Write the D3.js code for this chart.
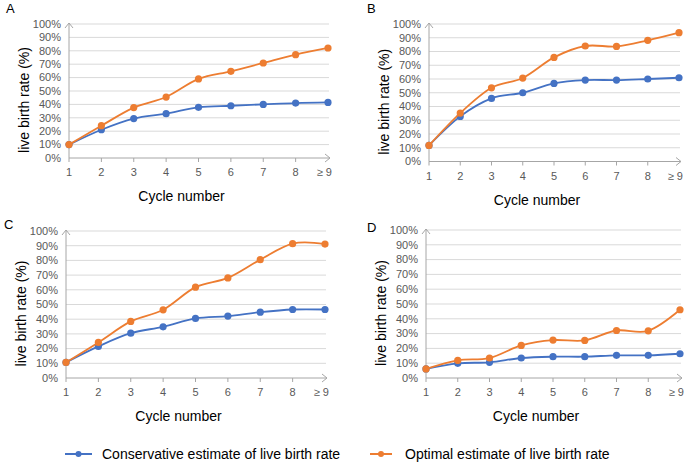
<!DOCTYPE html>
<html>
<head>
<meta charset="utf-8">
<script src="https://cdn.jsdelivr.net/npm/d3@7"></script>
<style>
  body { margin: 0; background: #fff; }
  svg { font-family: "Liberation Sans", Arial, sans-serif; }
</style>
</head>
<body>
<div id="chart"></div>
<script>
// cycle categories and y ticks
var categories = ["1", "2", "3", "4", "5", "6", "7", "8", "≥ 9"];
var yTicks = [0, 10, 20, 30, 40, 50, 60, 70, 80, 90, 100];

// live birth rate (%)
var consA = [10, 21.1, 29.4, 33.1, 37.8, 39, 40, 41, 41.5];
var optA  = [10, 24.1, 37.6, 45.5, 59, 64.7, 70.9, 77.1, 82.1];
var consB = [11.7, 32.8, 45.9, 50, 56.8, 59.2, 59.2, 60, 60.9];
var optB  = [11.7, 35.2, 53.6, 60.7, 75.7, 84, 83.7, 88.1, 93.7];
var consC = [10.6, 21.5, 30.5, 34.8, 40.5, 42.1, 44.8, 46.6, 46.6];
var optC  = [10.6, 24.2, 38.5, 46.4, 61.8, 68.1, 80.5, 91.4, 91.1];
var consD = [6.1, 9.9, 10.6, 13.5, 14.4, 14.4, 15.3, 15.3, 16.4];
var optD  = [6.1, 11.9, 13.5, 22, 25.6, 25.4, 32.1, 31.9, 46.1];

var legendNames = ["Conservative estimate of live birth rate", "Optimal estimate of live birth rate"];

var blue = "#4472C4", orange = "#ED7D31";

var svg = d3.select("#chart").append("svg")
    .attr("width", 685)
    .attr("height", 464);

// panel layout
var panels = [
  {name: "A", cons: consA, opt: optA, left: 69, right: 328, top: 24, bottom: 158, lx: 6, ly: 13},
  {name: "B", cons: consB, opt: optB, left: 429, right: 679, top: 24, bottom: 161.5, lx: 367, ly: 13},
  {name: "C", cons: consC, opt: optC, left: 66, right: 325, top: 231, bottom: 378, lx: 4, ly: 229},
  {name: "D", cons: consD, opt: optD, left: 426, right: 680, top: 230, bottom: 378, lx: 367, ly: 232}
];

panels.forEach(function(p) {
  var g = svg.append("g");

  var x = d3.scalePoint().domain(categories).range([p.left, p.right]);
  var y = d3.scaleLinear().domain([0, 100]).range([p.bottom, p.top]);

  // gridlines
  g.selectAll("line.grid")
    .data(yTicks.slice(1))
    .enter()
    .append("line")
      .attr("class", "grid")
      .attr("x1", p.left)
      .attr("x2", p.right + 1)
      .attr("y1", function(d) { return y(d); })
      .attr("y2", function(d) { return y(d); })
      .attr("stroke", "#d9d9d9")
      .attr("stroke-width", 1);

  // y tick labels
  g.selectAll("text.ylab")
    .data(yTicks)
    .enter()
    .append("text")
      .attr("class", "ylab")
      .attr("x", p.left - 8)
      .attr("y", function(d) { return y(d); })
      .attr("dy", "0.35em")
      .attr("text-anchor", "end")
      .attr("font-size", 11)
      .attr("fill", "#595959")
      .text(function(d) { return d + "%"; });

  // axes with open arrow heads
  var axisCol = "#a6a6a6";
  g.append("line")
    .attr("x1", p.left).attr("x2", p.left)
    .attr("y1", p.bottom).attr("y2", p.top - 1)
    .attr("stroke", axisCol).attr("stroke-width", 1);
  g.append("path")
    .attr("d", "M" + (p.left - 4) + "," + (p.top + 4) + "L" + p.left + "," + (p.top - 1) + "L" + (p.left + 4) + "," + (p.top + 4))
    .attr("fill", "none").attr("stroke", axisCol);

  g.append("line")
    .attr("x1", p.left).attr("x2", p.right + 2)
    .attr("y1", p.bottom).attr("y2", p.bottom)
    .attr("stroke", axisCol).attr("stroke-width", 1);
  g.append("path")
    .attr("d", "M" + (p.right - 3) + "," + (p.bottom - 4) + "L" + (p.right + 2) + "," + p.bottom + "L" + (p.right - 3) + "," + (p.bottom + 4))
    .attr("fill", "none").attr("stroke", axisCol);

  // x ticks
  g.selectAll("line.xtick")
    .data(categories.slice(0, -1))
    .enter()
    .append("line")
      .attr("class", "xtick")
      .attr("x1", function(d) { return x(d); })
      .attr("x2", function(d) { return x(d); })
      .attr("y1", p.bottom)
      .attr("y2", p.bottom + 4)
      .attr("stroke", axisCol);

  // x labels
  g.selectAll("text.xlab")
    .data(categories)
    .enter()
    .append("text")
      .attr("class", "xlab")
      .attr("x", function(d, i) { return i === categories.length - 1 ? x(d) + 4 : x(d); })
      .attr("y", p.bottom + 18)
      .attr("text-anchor", function(d, i) { return i === categories.length - 1 ? "end" : "middle"; })
      .attr("font-size", 11)
      .attr("fill", "#595959")
      .text(function(d) { return d; });

  // titles
  var cy = (p.top + p.bottom) / 2 + 9;
  g.append("text")
    .attr("transform", "translate(" + (p.left - 45) + "," + cy + ") rotate(-90)")
    .attr("dy", "0.35em")
    .attr("text-anchor", "middle")
    .attr("font-size", 14)
    .attr("fill", "#000")
    .text("live birth rate (%)");

  g.append("text")
    .attr("x", (p.left + p.right) / 2 - 17)
    .attr("y", p.bottom + 43)
    .attr("text-anchor", "middle")
    .attr("font-size", 14)
    .attr("fill", "#000")
    .text("Cycle number");

  g.append("text")
    .attr("x", p.lx)
    .attr("y", p.ly)
    .attr("font-size", 13)
    .attr("fill", "#000")
    .text(p.name);

  // series
  var line = d3.line()
    .x(function(d, i) { return x(categories[i]); })
    .y(function(d) { return y(d); })
    .curve(d3.curveCardinal.tension(0));

  [[p.cons, blue], [p.opt, orange]].forEach(function(s) {
    g.append("path")
      .datum(s[0])
      .attr("d", line)
      .attr("fill", "none")
      .attr("stroke", s[1])
      .attr("stroke-width", 1.8);

    g.selectAll(null)
      .data(s[0])
      .enter()
      .append("circle")
        .attr("cx", function(d, i) { return x(categories[i]); })
        .attr("cy", function(d) { return y(d); })
        .attr("r", 3.6)
        .attr("fill", s[1]);
  });
});

// legend
var legendX = [65, 370];
var legend = svg.selectAll("g.legend")
  .data(legendNames)
  .enter()
  .append("g")
    .attr("class", "legend")
    .attr("transform", function(d, i) { return "translate(" + legendX[i] + ",454)"; });

legend.append("line")
  .attr("x1", 0).attr("x2", function(d, i) { return i === 0 ? 27 : 22; })
  .attr("y1", 0).attr("y2", 0)
  .attr("stroke", function(d, i) { return i === 0 ? blue : orange; })
  .attr("stroke-width", 2);
legend.append("circle")
  .attr("cx", function(d, i) { return i === 0 ? 13.5 : 11; })
  .attr("cy", 0)
  .attr("r", 3)
  .attr("fill", function(d, i) { return i === 0 ? blue : orange; });
legend.append("text")
  .attr("x", function(d, i) { return i === 0 ? 37 : 35; })
  .attr("y", 0)
  .attr("dy", "0.35em")
  .attr("font-size", 14)
  .attr("fill", "#000")
  .text(function(d) { return d; });
</script>
</body>
</html>
